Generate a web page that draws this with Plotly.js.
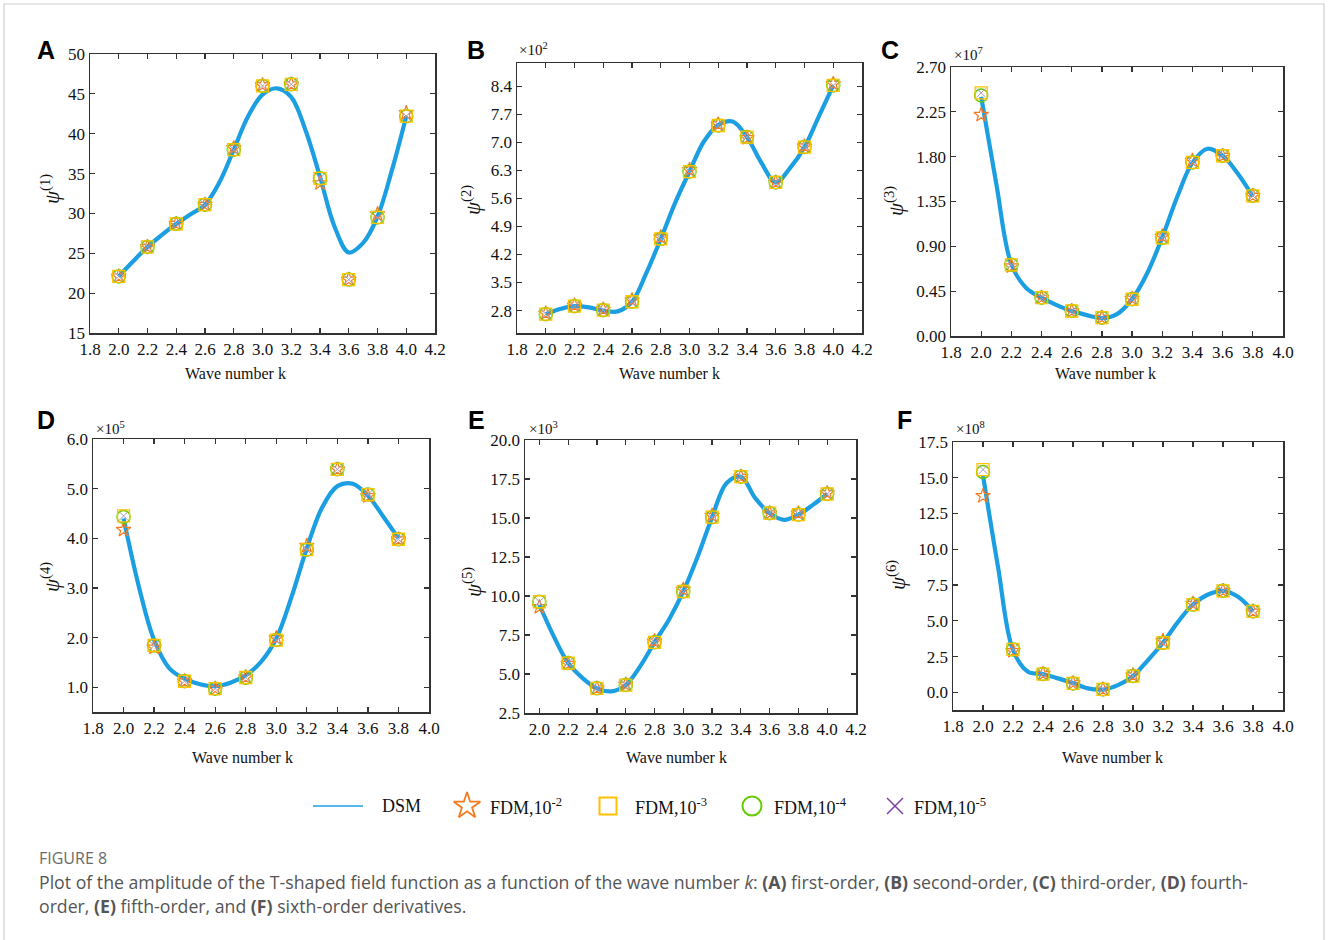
<!DOCTYPE html>
<html>
<head>
<meta charset="utf-8">
<script src="https://cdn.plot.ly/plotly-3.0.1.min.js"></script>
<style>html,body{margin:0;padding:0;background:#fff;}#chart{width:1328px;height:940px;}</style>
</head>
<body>
<div id="chart"></div>
<script>
// ---------------- DATA ----------------
const k11 = [2.0, 2.2, 2.4, 2.6, 2.8, 3.0, 3.2, 3.4, 3.6, 3.8, 4.0];
const k10 = [2.0, 2.2, 2.4, 2.6, 2.8, 3.0, 3.2, 3.4, 3.6, 3.8];
const kFine21 = [2.0,2.1,2.2,2.3,2.4,2.5,2.6,2.7,2.8,2.9,3.0,3.1,3.2,3.3,3.4,3.5,3.6,3.7,3.8,3.9,4.0];
const kFine19 = [2.0,2.1,2.2,2.3,2.4,2.5,2.6,2.7,2.8,2.9,3.0,3.1,3.2,3.3,3.4,3.5,3.6,3.7,3.8];

// (A) first order
const dsmA  = [22.1, 24.0, 25.8, 27.3, 28.7, 29.9, 31.1, 33.9, 38.0, 42.2, 44.9, 45.7, 44.6, 40.4, 34.6, 28.4, 25.1, 26.3, 29.6, 35.4, 42.2];
const fdm2A = [22.1, 25.8, 28.7, 31.1, 38.2, 46.1, 46.2, 33.8, 21.7, 29.9, 42.6];
const fdm3A = [22.1, 25.8, 28.7, 31.1, 38.0, 46.0, 46.2, 34.4, 21.7, 29.5, 42.2];
const fdm4A = [22.1, 25.8, 28.7, 31.1, 38.0, 46.0, 46.2, 34.4, 21.7, 29.5, 42.2];
const fdm5A = [22.1, 25.8, 28.7, 31.1, 38.0, 46.0, 46.2, 34.4, 21.7, 29.5, 42.2];

// (B) second order (x10^2)
const dsmB  = [2.71, 2.84, 2.91, 2.88, 2.80, 2.78, 3.02, 3.74, 4.59, 5.49, 6.27, 7.02, 7.43, 7.52, 7.13, 6.49, 6.00, 6.36, 6.88, 7.65, 8.42];
const fdm2B = [2.73, 2.93, 2.83, 3.06, 4.63, 6.31, 7.45, 7.11, 6.00, 6.90, 8.46];
const fdm3B = [2.71, 2.91, 2.81, 3.02, 4.59, 6.27, 7.42, 7.13, 6.00, 6.88, 8.42];
const fdm4B = [2.71, 2.91, 2.81, 3.02, 4.59, 6.27, 7.42, 7.13, 6.00, 6.88, 8.42];
const fdm5B = [2.71, 2.91, 2.81, 3.02, 4.59, 6.27, 7.42, 7.13, 6.00, 6.88, 8.42];

// (C) third order (x10^7)
const dsmC  = [2.40, 1.53, 0.72, 0.48, 0.385, 0.31, 0.25, 0.21, 0.18, 0.22, 0.37, 0.63, 0.99, 1.40, 1.74, 1.88, 1.81, 1.63, 1.40];
const fdm2C = [2.22, 0.70, 0.385, 0.251, 0.184, 0.375, 1.00, 1.76, 1.809, 1.407];
const fdm3C = [2.44, 0.714, 0.385, 0.251, 0.184, 0.369, 0.985, 1.742, 1.809, 1.407];
const fdm4C = [2.415, 0.714, 0.385, 0.251, 0.184, 0.369, 0.985, 1.742, 1.809, 1.407];
const fdm5C = [2.44, 0.714, 0.385, 0.251, 0.184, 0.369, 0.985, 1.742, 1.809, 1.407];

// (D) fourth order (x10^5)
const dsmD  = [4.40, 3.03, 1.95, 1.38, 1.17, 1.06, 1.02, 1.09, 1.24, 1.51, 1.98, 2.82, 3.80, 4.62, 5.05, 5.10, 4.86, 4.44, 4.00];
const fdm2D = [4.17, 1.80, 1.12, 0.97, 1.20, 1.99, 3.85, 5.39, 4.85, 3.98];
const fdm3D = [4.45, 1.84, 1.12, 0.97, 1.195, 1.95, 3.77, 5.39, 4.88, 3.98];
const fdm4D = [4.43, 1.84, 1.12, 0.97, 1.19, 1.95, 3.77, 5.39, 4.88, 3.98];
const fdm5D = [4.45, 1.84, 1.12, 0.97, 1.195, 1.95, 3.77, 5.39, 4.88, 3.98];

// (E) fifth order (x10^3)
const dsmE  = [9.44, 7.41, 5.70, 4.74, 4.08, 3.89, 4.29, 5.49, 7.03, 8.48, 10.29, 12.53, 15.05, 17.23, 17.65, 16.27, 15.31, 14.88, 15.22, 15.84, 16.54];
const fdm2E = [9.29, 5.66, 4.08, 4.33, 7.10, 10.40, 15.15, 17.65, 15.31, 15.30, 16.60];
const fdm3E = [9.63, 5.70, 4.08, 4.29, 7.03, 10.29, 15.05, 17.65, 15.31, 15.22, 16.54];
const fdm4E = [9.63, 5.70, 4.08, 4.29, 7.03, 10.29, 15.05, 17.65, 15.31, 15.22, 16.54];
const fdm5E = [9.63, 5.70, 4.08, 4.29, 7.03, 10.29, 15.05, 17.65, 15.31, 15.22, 16.54];

// (F) sixth order (x10^8)
const dsmF  = [15.17, 8.77, 2.96, 1.44, 1.28, 0.98, 0.65, 0.28, 0.20, 0.51, 1.14, 2.26, 3.47, 4.93, 6.14, 6.84, 7.10, 6.68, 5.66];
const fdm2F = [13.73, 2.90, 1.30, 0.65, 0.21, 1.20, 3.60, 6.20, 7.10, 5.66];
const fdm3F = [15.57, 3.00, 1.28, 0.63, 0.21, 1.14, 3.47, 6.14, 7.10, 5.66];
const fdm4F = [15.40, 3.00, 1.28, 0.63, 0.21, 1.14, 3.47, 6.14, 7.10, 5.66];
const fdm5F = [15.57, 3.00, 1.28, 0.63, 0.21, 1.14, 3.47, 6.14, 7.10, 5.66];

const panelLetters = ['A','B','C','D','E','F'];
const yTitles = ['(1)','(2)','(3)','(4)','(5)','(6)'];
const multipliers = [null, '2', '7', '5', '3', '8'];
const legendNames = ['DSM', 'FDM,10<sup>-2</sup>', 'FDM,10<sup>-3</sup>', 'FDM,10<sup>-4</sup>', 'FDM,10<sup>-5</sup>'];
const xTitle = 'Wave number k';
const captionHead = 'FIGURE 8';
const captionLine1 = 'Plot of the amplitude of the T-shaped field function as a function of the wave number <i>k</i>: <b>(A)</b> first-order, <b>(B)</b> second-order, <b>(C)</b> third-order, <b>(D)</b> fourth-';
const captionLine2 = 'order, <b>(E)</b> fifth-order, and <b>(F)</b> sixth-order derivatives.';

const panelData = [
  {k: k11, kf: kFine21, dsm: dsmA, f2: fdm2A, f3: fdm3A, f4: fdm4A, f5: fdm5A},
  {k: k11, kf: kFine21, dsm: dsmB, f2: fdm2B, f3: fdm3B, f4: fdm4B, f5: fdm5B},
  {k: k10, kf: kFine19, dsm: dsmC, f2: fdm2C, f3: fdm3C, f4: fdm4C, f5: fdm5C},
  {k: k10, kf: kFine19, dsm: dsmD, f2: fdm2D, f3: fdm3D, f4: fdm4D, f5: fdm5D},
  {k: k11, kf: kFine21, dsm: dsmE, f2: fdm2E, f3: fdm3E, f4: fdm4E, f5: fdm5E},
  {k: k10, kf: kFine19, dsm: dsmF, f2: fdm2F, f3: fdm3F, f4: fdm4F, f5: fdm5F}
];

// ---------------- LAYOUT / STYLE ----------------
const W = 1328, H = 940;
const boxes = [ // [left, top, right, bottom] in px
  [90, 54, 435, 333],
  [517, 63, 862, 333],
  [951, 67, 1283, 336],
  [93, 439, 429, 712],
  [525, 440, 856, 713],
  [953, 442, 1283, 710]
];
const xRanges = [[1.8,4.2],[1.8,4.2],[1.8,4.0],[1.8,4.0],[1.9,4.2],[1.8,4.0]];
const yRanges = [[15,50],[2.24,8.98],[0,2.70],[0.5,6.0],[2.5,20.0],[-1.23,17.5]];
const yTick0 = [15, 2.8, 0, 1.0, 2.5, 0];
const yDtick = [5, 0.7, 0.45, 1.0, 2.5, 2.5];
const yFmt = ['d', '.1f', '.2f', '.1f', '.1f', '.1f'];
const xTick0 = [1.8,1.8,1.8,1.8,2.0,1.8];
const letterPos = [[46,50],[476,50],[890,50],[46,420],[476,420],[904,420]];
const yTitlePos = [[50,189],[472,200],[894,201],[50,577],[472,582],[896,575]];
const xTitlePos = [[235,373],[670,373],[1105,373],[242,757],[676,757],[1112,757]];
const multPos = [null,[533,49],[968,54],[110,428],[543,428],[970,428]];

const C_DSM = '#1C9FE2', C_STAR = '#F47B20', C_SQ = '#FFC000', C_CIR = '#66CC00', C_X = '#7A3FA8';
const serif = 'Liberation Serif, Times New Roman, serif';
const axColor = '#333333';

const px2x = p => p / W;
const px2y = p => 1 - p / H;

const traces = [];
const layout = {
  width: W, height: H, autosize: false,
  margin: {l:0, r:0, t:0, b:0, pad:0},
  paper_bgcolor: '#fff', plot_bgcolor: 'rgba(0,0,0,0)',
  showlegend: false,
  font: {family: serif, color: '#111', size: 17},
  annotations: [], shapes: []
};

panelData.forEach((p, i) => {
  const n = i + 1;
  const suf = n === 1 ? '' : String(n);
  const xa = 'x' + suf, ya = 'y' + suf;
  const xk = 'xaxis' + suf, yk = 'yaxis' + suf;
  const b = boxes[i];
  const common = {
    showgrid: false, zeroline: false, showline: true, mirror: 'ticks',
    linecolor: axColor, linewidth: 1.5, ticks: 'inside', ticklen: 5, tickwidth: 1.2, tickcolor: axColor,
    tickfont: {family: serif, size: 17, color: '#111'}, fixedrange: true
  };
  layout[xk] = Object.assign({}, common, {
    domain: [px2x(b[0]), px2x(b[2])], range: xRanges[i], anchor: ya,
    tick0: xTick0[i], dtick: 0.2, tickformat: '.1f'
  });
  layout[yk] = Object.assign({}, common, {
    domain: [px2y(b[3]), px2y(b[1])], range: yRanges[i], anchor: xa,
    tick0: yTick0[i], dtick: yDtick[i], tickformat: yFmt[i]
  });

  traces.push({x: p.kf, y: p.dsm, xaxis: xa, yaxis: ya, type: 'scatter', mode: 'lines',
    line: {color: C_DSM, width: 4.2, shape: 'spline', smoothing: 1}, hoverinfo: 'skip'});
  traces.push({x: p.k, y: p.f2, xaxis: xa, yaxis: ya, type: 'scatter', mode: 'markers',
    marker: {symbol: 'star-open', size: 11, color: C_STAR, line: {width: 1.2, color: C_STAR}}});
  traces.push({x: p.k, y: p.f4, xaxis: xa, yaxis: ya, type: 'scatter', mode: 'markers',
    marker: {symbol: 'circle-open', size: 13, color: C_CIR, line: {width: 1.5, color: C_CIR}}});
  traces.push({x: p.k, y: p.f3, xaxis: xa, yaxis: ya, type: 'scatter', mode: 'markers',
    marker: {symbol: 'square-open', size: 12, color: C_SQ, line: {width: 1.3, color: '#F8B74A'}}});
  traces.push({x: p.k, y: p.f5, xaxis: xa, yaxis: ya, type: 'scatter', mode: 'markers',
    marker: {symbol: 'x-thin-open', size: 9, color: '#a89cb8', line: {width: 1, color: '#a89cb8'}}});

  layout.annotations.push({xref: 'paper', yref: 'paper', x: px2x(letterPos[i][0]), y: px2y(letterPos[i][1]),
    xanchor: 'center', yanchor: 'middle', showarrow: false, text: '<b>' + panelLetters[i] + '</b>',
    font: {family: 'Liberation Sans, Arial, sans-serif', size: 25, color: '#000'}});
  layout.annotations.push({xref: 'paper', yref: 'paper', x: px2x(yTitlePos[i][0]), y: px2y(yTitlePos[i][1]),
    xanchor: 'center', yanchor: 'middle', showarrow: false, textangle: -90,
    text: '<i>ψ</i><sup>' + yTitles[i] + '</sup>', font: {family: serif, size: 21, color: '#111'}});
  layout.annotations.push({xref: 'paper', yref: 'paper', x: px2x(xTitlePos[i][0]), y: px2y(xTitlePos[i][1]),
    xanchor: 'center', yanchor: 'middle', showarrow: false, text: xTitle,
    font: {family: serif, size: 16, color: '#111'}});
  if (multipliers[i]) {
    layout.annotations.push({xref: 'paper', yref: 'paper', x: px2x(multPos[i][0]), y: px2y(multPos[i][1]),
      xanchor: 'center', yanchor: 'middle', showarrow: false,
      text: '×10<sup>' + multipliers[i] + '</sup>', font: {family: serif, size: 15, color: '#111'}});
  }
});

// ---------------- LEGEND (drawn manually) ----------------
layout.xaxis7 = {domain: [0,1], range: [0, W], visible: false, fixedrange: true, anchor: 'y7'};
layout.yaxis7 = {domain: [0,1], range: [H, 0], visible: false, fixedrange: true, anchor: 'x7'};
const legY = 806;
layout.shapes.push({type: 'line', xref: 'paper', yref: 'paper', x0: px2x(313), x1: px2x(363), y0: px2y(legY), y1: px2y(legY),
  line: {color: C_DSM, width: 1.5}});
const legSymX = [467, 608, 752, 895];
const legSym = [
  {symbol: 'star-open', size: 20, color: C_STAR, line: {width: 1.8, color: C_STAR}},
  {symbol: 'square-open', size: 17, color: C_SQ, line: {width: 2, color: C_SQ}},
  {symbol: 'circle-open', size: 19, color: C_CIR, line: {width: 2, color: C_CIR}},
  {symbol: 'x-thin-open', size: 16, color: C_X, line: {width: 1.5, color: C_X}}
];
legSym.forEach((m, j) => {
  traces.push({x: [legSymX[j]], y: [legY], xaxis: 'x7', yaxis: 'y7', type: 'scatter', mode: 'markers',
    marker: m, hoverinfo: 'skip', cliponaxis: false});
});
const legTextX = [380, 488, 633, 772, 912];
legendNames.forEach((t, j) => {
  layout.annotations.push({xref: 'paper', yref: 'paper', x: px2x(legTextX[j]), y: px2y(legY),
    xanchor: 'left', yanchor: 'middle', showarrow: false, text: t,
    font: {family: serif, size: 18, color: '#111'}});
});

// ---------------- CAPTION & FRAME ----------------
const capFont = 'Open Sans, Noto Sans, sans-serif';
layout.annotations.push({xref: 'paper', yref: 'paper', x: px2x(37), y: px2y(858), xanchor: 'left', yanchor: 'middle',
  showarrow: false, text: captionHead, font: {family: capFont, size: 16, color: '#6b6b6b'}});
layout.annotations.push({xref: 'paper', yref: 'paper', x: px2x(37), y: px2y(882), xanchor: 'left', yanchor: 'middle',
  showarrow: false, text: captionLine1, font: {family: capFont, size: 17.7, color: '#555'}});
layout.annotations.push({xref: 'paper', yref: 'paper', x: px2x(37), y: px2y(906), xanchor: 'left', yanchor: 'middle',
  showarrow: false, text: captionLine2, font: {family: capFont, size: 17.7, color: '#555'}});

layout.shapes.push({type: 'rect', xref: 'paper', yref: 'paper', x0: px2x(4), x1: px2x(1324), y0: px2y(950), y1: px2y(4),
  line: {color: '#cfcfcf', width: 1.2}, fillcolor: 'rgba(0,0,0,0)'});

Plotly.newPlot('chart', traces, layout, {displayModeBar: false, staticPlot: true});
</script>
</body>
</html>
